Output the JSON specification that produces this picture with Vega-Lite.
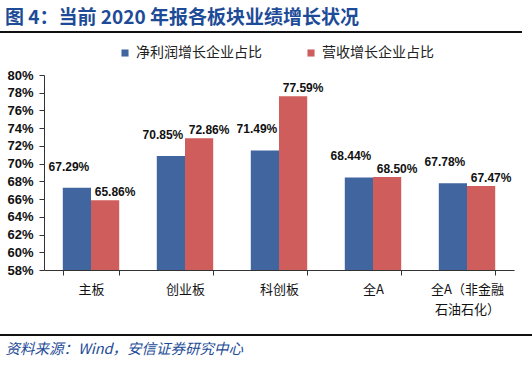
{
  "$schema": "https://vega.github.io/schema/vega-lite/v6.json",
  "width": 470,
  "height": 195,
  "autosize": "none",
  "padding": {"left": 44, "top": 75, "right": 18, "bottom": 96},
  "background": "white",
  "title": {
    "text": "图 4：当前 2020 年报各板块业绩增长状况",
    "anchor": "start",
    "frame": "group",
    "dx": -39,
    "offset": 3,
    "font": "Noto Sans CJK SC",
    "fontSize": 19,
    "fontWeight": "bold",
    "color": "#1d4b97"
  },
  "data": {
    "values": [
      {"category": "主板", "series": "净利润增长企业占比", "value": 0.6729},
      {"category": "主板", "series": "营收增长企业占比", "value": 0.6586},
      {"category": "创业板", "series": "净利润增长企业占比", "value": 0.7085},
      {"category": "创业板", "series": "营收增长企业占比", "value": 0.7286},
      {"category": "科创板", "series": "净利润增长企业占比", "value": 0.7149},
      {"category": "科创板", "series": "营收增长企业占比", "value": 0.7759},
      {"category": "全A", "series": "净利润增长企业占比", "value": 0.6844},
      {"category": "全A", "series": "营收增长企业占比", "value": 0.6850},
      {"category": "全A（非金融石油石化）", "series": "净利润增长企业占比", "value": 0.6778},
      {"category": "全A（非金融石油石化）", "series": "营收增长企业占比", "value": 0.6747}
    ]
  },
  "encoding": {
    "x": {
      "field": "category",
      "type": "nominal",
      "sort": null,
      "scale": {"paddingInner": 0.4, "paddingOuter": 0.2},
      "axis": {
        "title": "资料来源：Wind，安信证券研究中心",
        "titleAnchor": "start",
        "titleAlign": "left",
        "titleX": -39,
        "titleY": 79,
        "titleBaseline": "middle",
        "titleFont": "Noto Sans CJK SC",
        "titleFontSize": 14.5,
        "titleFontWeight": "normal",
        "titleFontStyle": "italic",
        "titleColor": "#1d4b97",
        "labelAngle": 0,
        "labelFont": "Noto Sans CJK SC",
        "labelFontSize": 13,
        "labelColor": "#111",
        "labelPadding": 8,
        "labelLineHeight": 20,
        "labelExpr": "datum.value == '全A（非金融石油石化）' ? ['全A（非金融', '石油石化）'] : datum.value",
        "tickBand": "extent",
        "tickSize": 5,
        "tickColor": "#333",
        "domainColor": "#333",
        "grid": false
      }
    },
    "xOffset": {"field": "series", "type": "nominal", "sort": ["净利润增长企业占比", "营收增长企业占比"]},
    "y": {
      "field": "value",
      "type": "quantitative",
      "scale": {"domain": [0.58, 0.80], "nice": false, "zero": false},
      "axis": {
        "title": null,
        "values": [0.58, 0.60, 0.62, 0.64, 0.66, 0.68, 0.70, 0.72, 0.74, 0.76, 0.78, 0.80],
        "format": ".0%",
        "labelFont": "Liberation Sans",
        "labelFontSize": 13,
        "labelFontWeight": "bold",
        "labelColor": "#111",
        "labelPadding": 6,
        "tickSize": 5,
        "tickColor": "#333",
        "domainColor": "#333",
        "grid": false
      }
    }
  },
  "layer": [
    {
      "mark": {"type": "bar", "clip": true},
      "encoding": {
        "y2": {"datum": 0.58},
        "color": {
          "field": "series",
          "type": "nominal",
          "sort": ["净利润增长企业占比", "营收增长企业占比"],
          "scale": {"range": ["#41659f", "#cf5d5c"]},
          "legend": {
            "title": null,
            "orient": "none",
            "direction": "horizontal",
            "legendX": 74,
            "legendY": -29,
            "symbolType": "square",
            "symbolSize": 50,
            "symbolStrokeWidth": 0,
            "labelFont": "Noto Sans CJK SC",
            "labelFontSize": 14,
            "labelColor": "#222",
            "labelOffset": 4,
            "columnPadding": 42
          }
        }
      }
    },
    {
      "transform": [{"filter": "datum.series == '净利润增长企业占比'"}],
      "mark": {"type": "text", "baseline": "bottom", "dx": -8, "dy": -14, "font": "Liberation Sans", "fontSize": 12, "fontWeight": "bold", "color": "#111"},
      "encoding": {"text": {"field": "value", "type": "quantitative", "format": ".2%"}}
    },
    {
      "transform": [{"filter": "datum.series == '营收增长企业占比'"}],
      "mark": {"type": "text", "baseline": "bottom", "dx": 10, "dy": -1, "font": "Liberation Sans", "fontSize": 12, "fontWeight": "bold", "color": "#111"},
      "encoding": {"text": {"field": "value", "type": "quantitative", "format": ".2%"}}
    },
    {
      "mark": {"type": "rule", "color": "#111", "strokeWidth": 1.5, "clip": false},
      "encoding": {"x": {"value": -44}, "x2": {"value": 478}, "y": {"value": -43}, "xOffset": null}
    },
    {
      "mark": {"type": "rule", "color": "#111", "strokeWidth": 1, "clip": false},
      "encoding": {"x": {"value": -44}, "x2": {"value": 488}, "y": {"value": 260}, "xOffset": null}
    }
  ],
  "config": {"view": {"stroke": null}}
}
